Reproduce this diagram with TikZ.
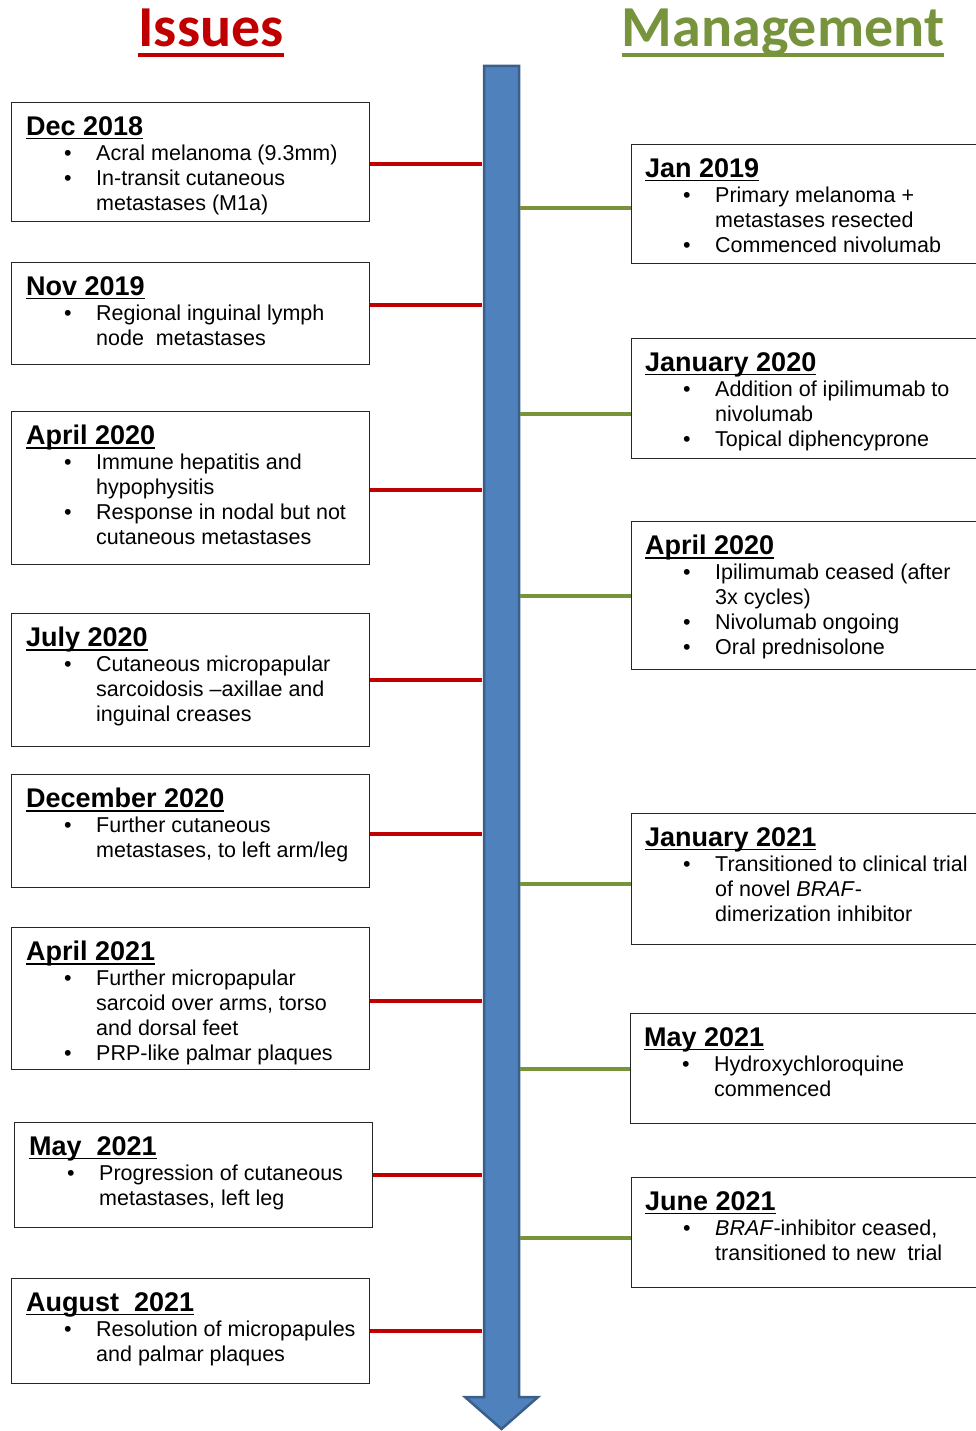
\documentclass[tikz,border=0pt]{standalone}
\usepackage{fontspec}
\setmainfont{Liberation Sans}
\newfontfamily\hdrfont{Carlito}
\usetikzlibrary{positioning}

\definecolor{issuered}{HTML}{C00000}
\definecolor{mgmtgreen}{HTML}{77933C}
\definecolor{axisfill}{HTML}{4F81BD}
\definecolor{axisdraw}{HTML}{3A5F8B}

\newcommand\ttl[1]{{\fontsize{27}{25}\selectfont\bfseries\setbox0=\hbox{#1}\rlap{\copy0}\rule[-4.3pt]{\wd0}{1.8pt}}}
\newcommand\hdr[1]{{\hdrfont\bfseries\setbox0=\hbox{#1}\rlap{\copy0}\rule[-10pt]{\wd0}{4pt}}}
\newcommand\itm{\makebox[70pt][l]{\hspace{38pt}\textbullet}}
\newcommand\cnt{\hspace*{70pt}}

\begin{document}
\begin{tikzpicture}[x=1pt,y=-1pt]
  \tikzstyle{box}=[rectangle, draw=black!85, line width=1.3pt, anchor=north west, minimum width=358pt, inner sep=0pt]
  \tikzstyle{mbox}=[box, minimum width=360pt]
  \tikzstyle{txt}=[anchor=north west, align=left, inner sep=0pt, font=\fontsize{21.5}{25}\selectfont]
  \tikzstyle{head}=[anchor=base, inner sep=0pt, font=\fontsize{58}{62}\selectfont]
  \tikzstyle{issueline}=[issuered, line width=4pt]
  \tikzstyle{mgmtline}=[mgmtgreen, line width=4pt]
  \useasboundingbox (0,0) rectangle (976,1431);
  \clip (0,0) rectangle (976,1431);

  % headings
  \node [head, text=issuered] (issues) at (211,47) {\hdr{Issues}};
  \node [head, text=mgmtgreen] (mgmt) at (783,47) {\hdr{Management}};

  % time axis
  \draw [fill=axisfill, draw=axisdraw, line width=2.5pt, line join=miter]
    (484,66) -- (519,66) -- (519,1397) -- (538,1397) -- (501.5,1429)
    -- (465,1397) -- (484,1397) -- cycle;
  \coordinate (axisL) at (482,0);
  \coordinate (axisR) at (520,0);

  % issues
  \node [box, minimum height=119pt] (dec18) at (11,102) {};
  \node [txt] (dec18t) at ([shift={(15,14)}]dec18.north west)
    {\ttl{Dec 2018}\\ \itm Acral melanoma (9.3mm)\\ \itm In-transit cutaneous\\ \cnt metastases (M1a)};
  \node [box, minimum height=102pt] (nov19) at (11,262) {};
  \node [txt] (nov19t) at ([shift={(15,14)}]nov19.north west)
    {\ttl{Nov 2019}\\ \itm Regional inguinal lymph\\ \cnt node\ \ metastases};
  \node [box, minimum height=153pt] (apr20) at (11,411) {};
  \node [txt] (apr20t) at ([shift={(15,14)}]apr20.north west)
    {\ttl{April 2020}\\ \itm Immune hepatitis and\\ \cnt hypophysitis\\ \itm Response in nodal but not\\ \cnt cutaneous metastases};
  \node [box, minimum height=133pt] (jul20) at (11,613) {};
  \node [txt] (jul20t) at ([shift={(15,14)}]jul20.north west)
    {\ttl{July 2020}\\ \itm Cutaneous micropapular\\ \cnt sarcoidosis –axillae and\\ \cnt inguinal creases};
  \node [box, minimum height=113pt] (dec20) at (11,774) {};
  \node [txt] (dec20t) at ([shift={(15,14)}]dec20.north west)
    {\ttl{December 2020}\\ \itm Further cutaneous\\ \cnt metastases, to left arm/leg};
  \node [box, minimum height=142pt] (apr21) at (11,927) {};
  \node [txt] (apr21t) at ([shift={(15,14)}]apr21.north west)
    {\ttl{April 2021}\\ \itm Further micropapular\\ \cnt sarcoid over arms, torso\\ \cnt and dorsal feet\\ \itm PRP-like palmar plaques};
  \node [box, minimum height=105pt] (may21) at (14,1122) {};
  \node [txt] (may21t) at ([shift={(15,14)}]may21.north west)
    {\ttl{May\ \ 2021}\\ \itm Progression of cutaneous\\ \cnt metastases, left leg};
  \node [box, minimum height=105pt] (aug21) at (11,1278) {};
  \node [txt] (aug21t) at ([shift={(15,14)}]aug21.north west)
    {\ttl{August\ \ 2021}\\ \itm Resolution of micropapules\\ \cnt and palmar plaques};

  % management
  \node [mbox, minimum height=119pt] (jan19) at (631,144) {};
  \node [txt] (jan19t) at ([shift={(14,14)}]jan19.north west)
    {\ttl{Jan 2019}\\ \itm Primary melanoma +\\ \cnt metastases resected\\ \itm Commenced nivolumab};
  \node [mbox, minimum height=120pt] (jan20) at (631,338) {};
  \node [txt] (jan20t) at ([shift={(14,14)}]jan20.north west)
    {\ttl{January 2020}\\ \itm Addition of ipilimumab to\\ \cnt nivolumab\\ \itm Topical diphencyprone};
  \node [mbox, minimum height=148pt] (apr20m) at (631,521) {};
  \node [txt] (apr20mt) at ([shift={(14,14)}]apr20m.north west)
    {\ttl{April 2020}\\ \itm Ipilimumab ceased (after\\ \cnt 3x cycles)\\ \itm Nivolumab ongoing\\ \itm Oral prednisolone};
  \node [mbox, minimum height=131pt] (jan21) at (631,813) {};
  \node [txt] (jan21t) at ([shift={(14,14)}]jan21.north west)
    {\ttl{January 2021}\\ \itm Transitioned to clinical trial\\ \cnt of novel \textit{BRAF}-\\ \cnt dimerization inhibitor};
  \node [mbox, minimum height=110pt] (may21m) at (630,1013) {};
  \node [txt] (may21mt) at ([shift={(14,14)}]may21m.north west)
    {\ttl{May 2021}\\ \itm Hydroxychloroquine\\ \cnt commenced};
  \node [mbox, minimum height=110pt] (jun21) at (631,1177) {};
  \node [txt] (jun21t) at ([shift={(14,14)}]jun21.north west)
    {\ttl{June 2021}\\ \itm \textit{BRAF}-inhibitor ceased,\\ \cnt transitioned to new\ \ trial};

  % links to the axis
  \draw [issueline] ([yshift=-1.5pt]dec18.east) coordinate (l1) -- (l1 -| axisL);
  \draw [issueline] ([yshift=9pt]nov19.east) coordinate (l2) -- (l2 -| axisL);
  \draw [issueline] ([yshift=-1.5pt]apr20.east) coordinate (l3) -- (l3 -| axisL);
  \draw [issueline] (jul20.east) -- (jul20.east -| axisL);
  \draw [issueline] ([yshift=-2.5pt]dec20.east) coordinate (l5) -- (l5 -| axisL);
  \draw [issueline] ([yshift=-2pt]apr21.east) coordinate (l6) -- (l6 -| axisL);
  \draw [issueline] (may21.east) -- (may21.east -| axisL);
  \draw [issueline] (aug21.east) -- (aug21.east -| axisL);
  \draw [mgmtline] ([yshift=-3.5pt]jan19.west) coordinate (r1) -- (r1 -| axisR);
  \draw [mgmtline] ([yshift=-15pt]jan20.west) coordinate (r2) -- (r2 -| axisR);
  \draw [mgmtline] (apr20m.west) -- (apr20m.west -| axisR);
  \draw [mgmtline] ([yshift=-4.5pt]jan21.west) coordinate (r4) -- (r4 -| axisR);
  \draw [mgmtline] (may21m.west) -- (may21m.west -| axisR);
  \draw [mgmtline] ([yshift=-5pt]jun21.west) coordinate (r6) -- (r6 -| axisR);
\end{tikzpicture}
\end{document}
